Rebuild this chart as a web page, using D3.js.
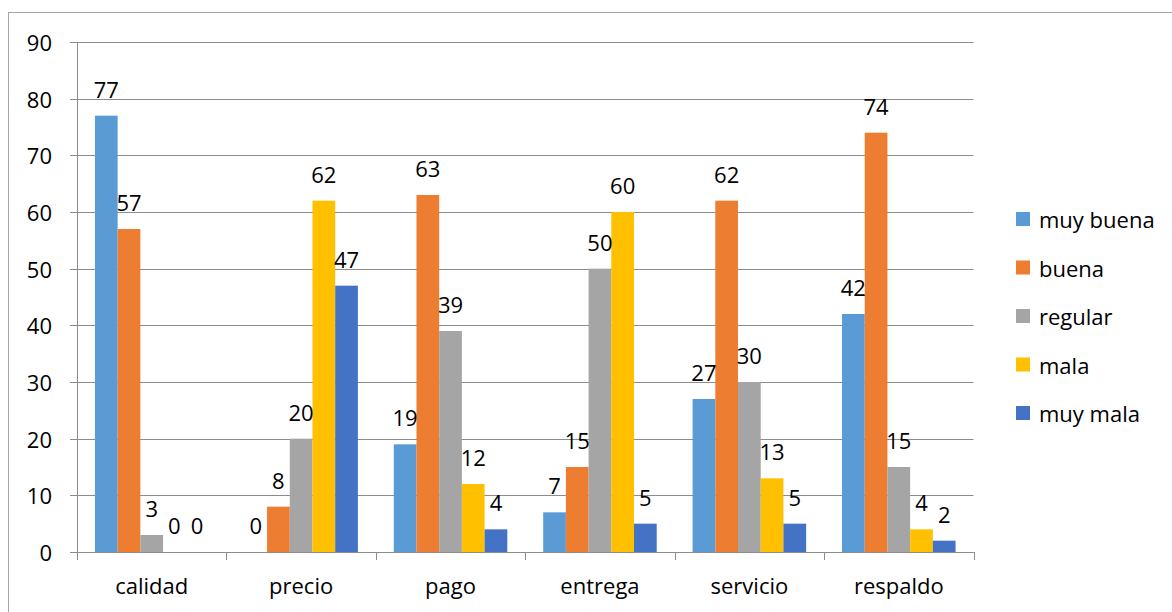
<!DOCTYPE html>
<html>
<head>
<meta charset="utf-8">
<script src="https://cdn.jsdelivr.net/npm/d3@7"></script>
<style>
  html, body { margin: 0; padding: 0; background: #fff; }
  svg { display: block; }
  text { font-family: "Open Sans", "Noto Sans", sans-serif; fill: #000; }
</style>
</head>
<body>
<svg id="chart" width="1172" height="612"></svg>
<script>
// Survey ratings per aspect
const categories = ["calidad", "precio", "pago", "entrega", "servicio", "respaldo"];
const seriesNames = ["muy buena", "buena", "regular", "mala", "muy mala"];
const seriesColors = ["#5B9BD5", "#ED7D31", "#A5A5A5", "#FFC000", "#4472C4"];
const muyBuena = [77, 0, 19, 7, 27, 42];
const buena    = [57, 8, 63, 15, 62, 74];
const regular  = [3, 20, 39, 50, 30, 15];
const mala     = [0, 62, 12, 60, 13, 4];
const muyMala  = [0, 47, 4, 5, 5, 2];
const yTicks = [0, 10, 20, 30, 40, 50, 60, 70, 80, 90];

const seriesValues = [muyBuena, buena, regular, mala, muyMala];

const svg = d3.select("#chart");
const W = 1172, H = 612;

// outer chart frame
svg.append("rect")
  .attr("x", 8.5).attr("y", 12.5)
  .attr("width", W + 20).attr("height", H + 20)
  .attr("fill", "none").attr("stroke", "#a6a6a6").attr("stroke-width", 1);

const plot = { left: 77, right: 973.5, top: 42, bottom: 552 };

const x0 = d3.scaleBand().domain(categories)
  .range([plot.left, plot.right]).paddingInner(0).paddingOuter(0);
// inner band: 5 touching bars with a gap on each side of the group
const x1 = d3.scaleBand().domain(seriesNames)
  .range([0, x0.bandwidth()]).paddingInner(0).paddingOuter(0.79);
const y = d3.scaleLinear().domain([0, 90]).range([plot.bottom, plot.top]);

const fontSize = 22;

// horizontal gridlines
svg.append("g").selectAll("line").data(yTicks).join("line")
  .attr("x1", plot.left - 7).attr("x2", plot.right)
  .attr("y1", d => Math.round(y(d)) + 0.5).attr("y2", d => Math.round(y(d)) + 0.5)
  .attr("stroke", "#8c8c8c").attr("stroke-width", 1);

// y axis tick labels
svg.append("g").selectAll("text").data(yTicks).join("text")
  .attr("x", 52).attr("y", d => y(d))
  .attr("text-anchor", "end").attr("dominant-baseline", "central")
  .style("font-size", fontSize + "px")
  .text(d => d);

// bars
const groups = svg.append("g").selectAll("g").data(categories).join("g")
  .attr("transform", c => `translate(${x0(c)},0)`);

groups.selectAll("rect")
  .data((c, i) => seriesNames.map((s, j) => ({ s, j, v: seriesValues[j][i] })))
  .join("rect")
  .attr("x", d => x1(d.s))
  .attr("width", x1.bandwidth())
  .attr("y", d => y(d.v))
  .attr("height", d => y(0) - y(d.v))
  .attr("fill", d => seriesColors[d.j]);

// value labels
groups.selectAll("text")
  .data((c, i) => seriesNames.map((s, j) => ({ s, j, v: seriesValues[j][i] })))
  .join("text")
  .attr("x", d => x1(d.s) + x1.bandwidth() / 2)
  .attr("y", d => y(d.v) - 18)
  .attr("text-anchor", "middle")
  .style("font-size", fontSize + "px")
  .text(d => d.v);

// y axis line
svg.append("line")
  .attr("x1", plot.left + 0.5).attr("x2", plot.left + 0.5)
  .attr("y1", plot.top).attr("y2", plot.bottom)
  .attr("stroke", "#8c8c8c");

// x axis line and category ticks
svg.append("line")
  .attr("x1", plot.left).attr("x2", plot.right)
  .attr("y1", plot.bottom + 0.5).attr("y2", plot.bottom + 0.5)
  .attr("stroke", "#8c8c8c");

const boundaries = categories.map(c => x0(c)).concat([plot.right]);
svg.append("g").selectAll("line").data(boundaries).join("line")
  .attr("x1", d => Math.round(d) + 0.5).attr("x2", d => Math.round(d) + 0.5)
  .attr("y1", plot.bottom).attr("y2", plot.bottom + 8)
  .attr("stroke", "#8c8c8c");

// category labels
svg.append("g").selectAll("text").data(categories).join("text")
  .attr("x", c => x0(c) + x0.bandwidth() / 2)
  .attr("y", 594)
  .attr("text-anchor", "middle")
  .style("font-size", fontSize + "px")
  .text(c => c);

// legend
const legend = svg.append("g").selectAll("g").data(seriesNames).join("g")
  .attr("transform", (s, i) => `translate(1016, ${219 + i * 48.5})`);
legend.append("rect")
  .attr("x", 0).attr("y", -7).attr("width", 14).attr("height", 14)
  .attr("fill", (s, i) => seriesColors[i]);
legend.append("text")
  .attr("x", 23).attr("y", 0)
  .attr("dominant-baseline", "central")
  .style("font-size", fontSize + "px")
  .text(s => s);
</script>
</body>
</html>
